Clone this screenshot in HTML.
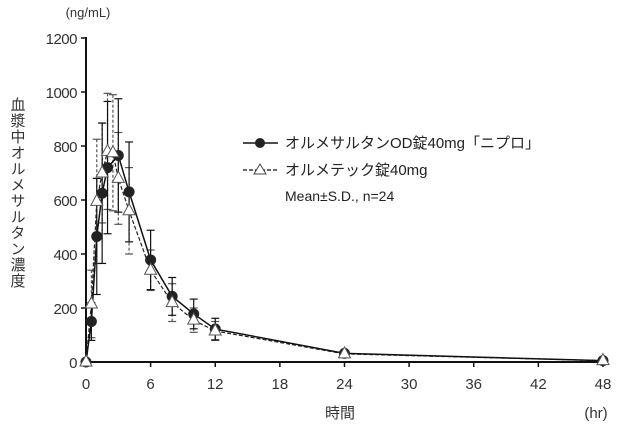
<!DOCTYPE html>
<html><head><meta charset="utf-8"><style>
body{margin:0;background:#fff;}
svg{display:block;font-family:"Liberation Sans","Noto Sans CJK JP",sans-serif;}
</style></head><body>
<svg id="s" width="620" height="427" viewBox="0 0 620 427">
<text x="88" y="17" font-size="13" fill="#333" text-anchor="middle">(ng/mL)</text>
<g font-size="15" fill="#333" text-anchor="end" letter-spacing="-0.5">
<text x="77" y="368">0</text><text x="77" y="314">200</text><text x="77" y="260">400</text>
<text x="77" y="206">600</text><text x="77" y="152">800</text><text x="77" y="98">1000</text><text x="77" y="44">1200</text>
</g>
<g font-size="15" fill="#333" text-anchor="middle">
<text x="86" y="389">0</text><text x="150.6" y="389">6</text><text x="215.2" y="389">12</text><text x="279.9" y="389">18</text>
<text x="344.5" y="389">24</text><text x="409.1" y="389">30</text><text x="473.7" y="389">36</text><text x="538.4" y="389">42</text><text x="603" y="389">48</text>
<text x="340" y="418">時間</text><text x="596" y="418">(hr)</text>
</g>
<text font-size="15" fill="#333" writing-mode="tb" x="17" y="97" letter-spacing="1">血漿中オルメサルタン濃度</text>
<g stroke="#111" stroke-width="2" fill="none">
<line x1="86" y1="37" x2="86" y2="362"/><line x1="86" y1="362" x2="603" y2="362"/>
</g>
<g id="ticks" stroke="#111" stroke-width="1.5"></g>
<g id="plot"></g>
<g font-size="15" fill="#222">
<line x1="243" y1="143" x2="278" y2="143" stroke="#111" stroke-width="1.5"/>
<circle cx="260" cy="143" r="5" fill="#222"/>
<text x="285" y="148">オルメサルタンOD錠40mg「ニプロ」</text>
<line x1="243" y1="170" x2="278" y2="170" stroke="#111" stroke-width="1.2" stroke-dasharray="4,2"/>
<polygon points="260,164 266,174 254,174" fill="#fff" stroke="#444" stroke-width="1"/>
<text x="285" y="175">オルメテック錠40mg</text>
<text x="285" y="201" font-size="14">Mean±S.D., n=24</text>
</g>
</svg>
<script>
const X=t=>86+t*10.77,Y=v=>362-v*0.27,NS="http://www.w3.org/2000/svg";
function el(p,n,a){const e=document.createElementNS(NS,n);for(const k in a)e.setAttribute(k,a[k]);p.appendChild(e);return e;}
const tk=document.getElementById('ticks');
[0,200,400,600,800,1000,1200].forEach(v=>el(tk,'line',{x1:81,x2:86,y1:Y(v),y2:Y(v)}));
[0,6,12,18,24,30,36,42,48].forEach(t=>el(tk,'line',{x1:X(t),x2:X(t),y1:362,y2:367}));
const P=document.getElementById('plot');
const A=[[0,0,0],[0.5,150,70],[1,465,215],[1.5,625,260],[2,720,245],[3,765,210],[4,630,185],[6,378,110],[8,243,70],[10,178,55],[12,122,40],[24,32,0],[48,5,0]];
const B=[[0,0,0],[0.5,215,125],[1,595,230],[1.5,700,185],[2,780,215],[2.5,775,215],[3,680,170],[4,560,160],[6,340,75],[8,220,70],[10,155,45],[12,115,35],[24,30,0],[48,5,0]];
function eb(d,c,dash){d.forEach(([t,v,s])=>{if(!s)return;const x=X(t);const g=el(P,'g',{stroke:c,'stroke-width':1.2});
el(g,'line',{x1:x,x2:x,y1:Y(v+s),y2:Y(v-s),'stroke-dasharray':dash});
el(g,'line',{x1:x-4,x2:x+4,y1:Y(v+s),y2:Y(v+s)});el(g,'line',{x1:x-4,x2:x+4,y1:Y(v-s),y2:Y(v-s)});});}
eb(B,'#555','3,2');eb(A,'#111','');
el(P,'polyline',{points:B.map(d=>X(d[0])+','+Y(d[1])).join(' '),fill:'none',stroke:'#222','stroke-width':1.2,'stroke-dasharray':'4,2'});
el(P,'polyline',{points:A.map(d=>X(d[0])+','+Y(d[1])).join(' '),fill:'none',stroke:'#111','stroke-width':1.5});
A.forEach(([t,v])=>el(P,'circle',{cx:X(t),cy:Y(v),r:5.5,fill:'#222'}));
B.forEach(([t,v])=>{const x=X(t),y=Y(v);el(P,'polygon',{points:`${x},${y-7} ${x+6},${y+4} ${x-6},${y+4}`,fill:'#fff',stroke:'#555','stroke-width':1});});
</script>
</body></html>
